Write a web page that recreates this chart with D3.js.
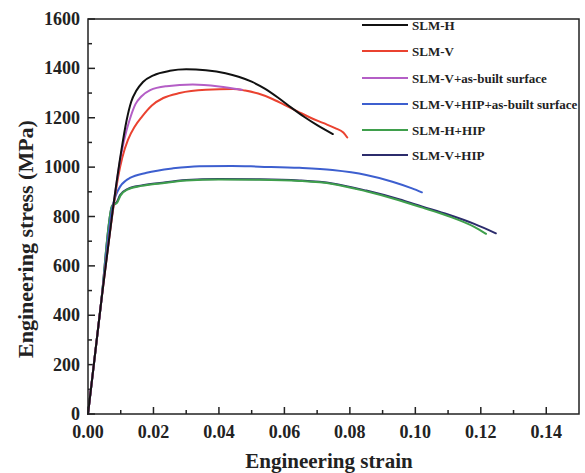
<!DOCTYPE html>
<html><head><meta charset="utf-8">
<script src="https://cdn.jsdelivr.net/npm/d3@7"></script>
<style>html,body{margin:0;padding:0;background:#fff;}svg{display:block;}</style>
</head><body>
<svg id="chart" width="585" height="473"></svg>
<script>
// ---- data ----
const xTicks = [0.00, 0.02, 0.04, 0.06, 0.08, 0.10, 0.12, 0.14];
const yTicks = [0, 200, 400, 600, 800, 1000, 1200, 1400, 1600];
const seriesNames = ["SLM-H", "SLM-V", "SLM-V+as-built surface", "SLM-V+HIP+as-built surface", "SLM-H+HIP", "SLM-V+HIP"];
const seriesColors = ["#111111", "#ea4230", "#b45ec6", "#3d5fcf", "#3f9f4c", "#2c2c6c"];

const slmH = [[0,0],[0.004,450],[0.0075,820],[0.0101,1060],[0.0118,1190],[0.0132,1265],[0.0148,1310],[0.0168,1345],[0.020,1372],[0.025,1390],[0.030,1396],[0.036,1392],[0.042,1380],[0.046,1366],[0.050,1346],[0.054,1318],[0.058,1282],[0.062,1242],[0.066,1204],[0.070,1170],[0.0748,1134]];
const slmV = [[0,0],[0.004,450],[0.0078,840],[0.0092,960],[0.0105,1040],[0.0122,1110],[0.0143,1165],[0.0165,1205],[0.0195,1250],[0.023,1280],[0.028,1300],[0.036,1313],[0.0443,1316],[0.048,1310],[0.052,1298],[0.056,1278],[0.060,1252],[0.064,1226],[0.068,1200],[0.072,1178],[0.0755,1158],[0.078,1140],[0.0792,1120]];
const slmVasb = [[0,0],[0.004,450],[0.0075,820],[0.0101,1050],[0.0118,1150],[0.0128,1195],[0.0145,1255],[0.0162,1285],[0.019,1312],[0.024,1328],[0.032,1335],[0.040,1327],[0.047,1313]];
const slmVhipAsb = [[0,0],[0.004,450],[0.0075,840],[0.0085,885],[0.0098,921],[0.0115,945],[0.0128,956],[0.0179,977],[0.026,995],[0.034,1004],[0.044,1005],[0.0524,1002],[0.0646,997],[0.0747,988],[0.085,968],[0.093,941],[0.099,914],[0.102,898]];
const slmHhip = [[0,0],[0.004,450],[0.0074,845],[0.0083,850],[0.0089,856],[0.0099,884],[0.0122,910],[0.0164,924],[0.022,934],[0.030,946],[0.040,950],[0.0524,949],[0.0646,944],[0.0747,932],[0.085,902],[0.095,866],[0.1022,836],[0.11,802],[0.118,758],[0.1216,730]];
const slmVhip = [[0,0],[0.004,450],[0.0073,840],[0.0082,852],[0.0088,858],[0.0098,887],[0.0122,912],[0.0164,926],[0.022,936],[0.030,948],[0.040,952],[0.0524,951],[0.0646,946],[0.0747,934],[0.085,905],[0.095,870],[0.1022,840],[0.11,808],[0.118,770],[0.1246,732]];
const seriesData = [slmH, slmV, slmVasb, slmVhipAsb, slmHhip, slmVhip];

// ---- layout ----
const svg = d3.select("#chart");
const L = 88, R = 579, T = 19, B = 414;
const x = d3.scaleLinear().domain([0, 0.15]).range([L, R]);
const y = d3.scaleLinear().domain([0, 1600]).range([B, T]);
const font = "'Liberation Serif','Times New Roman',serif";

// minor ticks
const xMinor = d3.range(0.01, 0.15, 0.02);
const yMinor = d3.range(100, 1600, 200);
const g = svg.append("g");
g.selectAll(".xmaj").data(xTicks).join("line")
  .attr("x1", d => x(d)).attr("x2", d => x(d)).attr("y1", B).attr("y2", B - 7)
  .attr("stroke", "#222").attr("stroke-width", 1.5);
g.selectAll(".xmin").data(xMinor).join("line")
  .attr("x1", d => x(d)).attr("x2", d => x(d)).attr("y1", B).attr("y2", B - 4)
  .attr("stroke", "#222").attr("stroke-width", 1.5);
g.selectAll(".ymaj").data(yTicks).join("line")
  .attr("x1", L).attr("x2", L + 7).attr("y1", d => y(d)).attr("y2", d => y(d))
  .attr("stroke", "#222").attr("stroke-width", 1.5);
g.selectAll(".ymin").data(yMinor).join("line")
  .attr("x1", L).attr("x2", L + 4).attr("y1", d => y(d)).attr("y2", d => y(d))
  .attr("stroke", "#222").attr("stroke-width", 1.5);

// tick labels
g.selectAll(".xl").data(xTicks).join("text")
  .attr("x", d => x(d)).attr("y", 438).attr("text-anchor", "middle")
  .attr("font-family", font).attr("font-weight", "bold").attr("font-size", 18).attr("fill", "#222")
  .text(d => d3.format(".2f")(d));
g.selectAll(".yl").data(yTicks).join("text")
  .attr("x", 80).attr("y", d => y(d) + 6).attr("text-anchor", "end")
  .attr("font-family", font).attr("font-weight", "bold").attr("font-size", 18).attr("fill", "#222")
  .text(d => d);

// axis titles
svg.append("text").attr("x", 329).attr("y", 468).attr("text-anchor", "middle")
  .attr("font-family", font).attr("font-weight", "bold").attr("font-size", 21).attr("fill", "#222")
  .text("Engineering strain");
svg.append("text").attr("transform", "translate(33,239) rotate(-90)").attr("text-anchor", "middle")
  .attr("font-family", font).attr("font-weight", "bold").attr("font-size", 22).attr("fill", "#222")
  .text("Engineering stress (MPa)");

// curves
const line = d3.line().x(d => x(d[0])).y(d => y(d[1])).curve(d3.curveMonotoneX);
const drawOrder = [5, 4, 3, 1, 2, 0];
drawOrder.forEach(i => {
  svg.append("path").datum(seriesData[i]).attr("d", line)
    .attr("fill", "none").attr("stroke", seriesColors[i]).attr("stroke-width", 2)
    .attr("stroke-linejoin", "round").attr("stroke-linecap", "round");
});

// frame
svg.append("rect").attr("x", L).attr("y", T).attr("width", R - L).attr("height", B - T)
  .attr("fill", "none").attr("stroke", "#222").attr("stroke-width", 1.5);

// legend
const legY = [25, 51, 78, 104, 130, 155];
const leg = svg.append("g");
seriesNames.forEach((n, i) => {
  leg.append("line").attr("x1", 362).attr("x2", 408).attr("y1", legY[i]).attr("y2", legY[i])
    .attr("stroke", seriesColors[i]).attr("stroke-width", 2);
  leg.append("text").attr("x", 412).attr("y", legY[i] + 4.5)
    .attr("font-family", font).attr("font-weight", "bold").attr("font-size", 13).attr("fill", "#222")
    .text(n);
});
</script>
</body></html>
